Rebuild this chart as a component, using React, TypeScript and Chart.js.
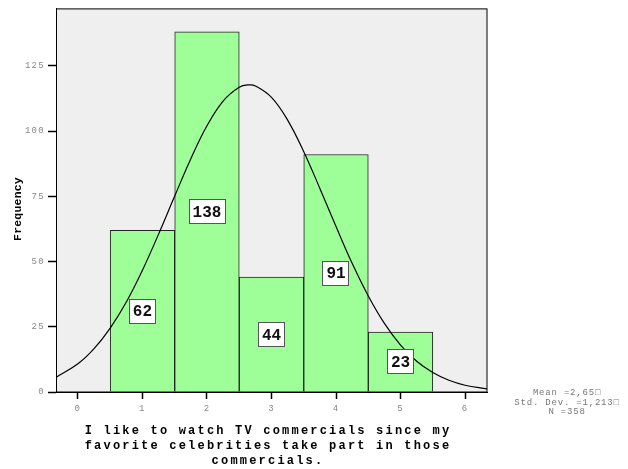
import React, { useEffect, useRef } from "react";
import { Chart, registerables } from "chart.js";

Chart.register(...registerables);

// Histogram data
const categories = [1, 2, 3, 4, 5];
const frequencies = [62, 138, 44, 91, 23];

// Normal curve points
const curveX = [-0.34, 0, 0.25, 0.5, 0.75, 1, 1.25, 1.5, 1.75, 2, 2.25, 2.5, 2.65, 2.75, 3, 3.25, 3.5, 3.75, 4, 4.25, 4.5, 4.75, 5, 5.25, 5.5, 5.75, 6, 6.34];
const curveY = [5.6, 10.8, 16.6, 24.5, 34.5, 46.7, 60.5, 75.1, 89.4, 102.0, 111.5, 116.8, 117.7, 117.3, 112.9, 104.2, 92.1, 78.0, 63.4, 49.3, 36.8, 26.3, 18.0, 11.8, 7.5, 4.5, 2.6, 1.2];

const yTitle = "Frequency";
const xTitleLines = [
  "I like to watch TV commercials since my",
  "favorite celebrities take part in those",
  "commercials.",
];
const statsLines = ["Mean =2,65\u25A1", "Std. Dev. =1,213\u25A1", "N =358"];

const MONO = "'Liberation Mono', 'Courier New', monospace";

const decorPlugin = {
  id: "decor",
  beforeDraw(chart: any) {
    const { ctx, chartArea } = chart;
    ctx.save();
    ctx.fillStyle = "#efefef";
    ctx.fillRect(chartArea.left, chartArea.top, chartArea.right - chartArea.left, chartArea.bottom - chartArea.top);
    ctx.restore();
    (ctx as any).letterSpacing = "1.3px";
  },
  afterDatasetsDraw(chart: any) {
    const { ctx } = chart;
    const xs = chart.scales.x;
    const ys = chart.scales.y;
    ctx.save();
    (ctx as any).letterSpacing = "0px";
    ctx.font = `bold 16px ${MONO}`;
    ctx.textAlign = "center";
    ctx.textBaseline = "middle";
    categories.forEach((c, i) => {
      const label = String(frequencies[i]);
      const cx = xs.getPixelForValue(c);
      const cy = ys.getPixelForValue(frequencies[i] / 2);
      const w = ctx.measureText(label).width + 8;
      const h = 25;
      ctx.fillStyle = "#ffffff";
      ctx.fillRect(Math.round(cx - w / 2), Math.round(cy - h / 2), Math.round(w), h);
      ctx.strokeStyle = "#555";
      ctx.lineWidth = 1;
      ctx.strokeRect(Math.round(cx - w / 2) + 0.5, Math.round(cy - h / 2) + 0.5, Math.round(w) - 1, h - 1);
      ctx.fillStyle = "#111";
      ctx.fillText(label, cx, cy + 1);
    });
    ctx.restore();
  },
  afterDraw(chart: any) {
    const { ctx, chartArea } = chart;
    ctx.save();
    (ctx as any).letterSpacing = "0px";
    ctx.strokeStyle = "#000";
    ctx.lineWidth = 1;
    ctx.strokeRect(chartArea.left + 0.5, chartArea.top + 0.5, chartArea.right - chartArea.left - 0.5, chartArea.bottom - chartArea.top - 0.5);

    // Y title
    ctx.save();
    ctx.translate(21, 209);
    ctx.rotate(-Math.PI / 2);
    (ctx as any).letterSpacing = "0.2px";
    ctx.font = `bold 11.5px ${MONO}`;
    ctx.fillStyle = "#000";
    ctx.textAlign = "center";
    ctx.textBaseline = "alphabetic";
    ctx.fillText(yTitle, 0, 0);
    ctx.restore();

    // X title
    (ctx as any).letterSpacing = "2.2px";
    ctx.font = `bold 12px ${MONO}`;
    ctx.fillStyle = "#000";
    ctx.textAlign = "center";
    ctx.textBaseline = "alphabetic";
    const bases = [434, 449, 463.5];
    xTitleLines.forEach((t, i) => ctx.fillText(t, 268, bases[i]));

    // Stats
    (ctx as any).letterSpacing = "0.8px";
    ctx.font = `9px ${MONO}`;
    ctx.fillStyle = "#777";
    ctx.textBaseline = "middle";
    const sy = [393, 403, 412];
    statsLines.forEach((t, i) => ctx.fillText(t, 567, sy[i]));
    ctx.restore();
  },
};

export default function App() {
  const ref = useRef<HTMLCanvasElement>(null);
  useEffect(() => {
    const canvas = ref.current;
    if (!canvas) return;
    const chart = new Chart(canvas, {
      type: "bar",
      data: {
        datasets: [
          {
            type: "line",
            data: curveX.map((x, i) => ({ x, y: curveY[i] })),
            borderColor: "#000",
            borderWidth: 1.2,
            pointRadius: 0,
            tension: 0.4,
            fill: false,
            order: 0,
          } as any,
          {
            type: "bar",
            data: categories.map((c, i) => ({ x: c, y: frequencies[i] })),
            backgroundColor: "#9eff99",
            borderColor: "#222",
            borderWidth: 1,
            barPercentage: 1,
            categoryPercentage: 1,
            order: 1,
          } as any,
        ],
      },
      options: {
        responsive: false,
        animation: false,
        devicePixelRatio: 1,
        layout: { padding: { left: 0, top: 5, right: 141, bottom: 0 } },
        plugins: { legend: { display: false }, tooltip: { enabled: false } },
        scales: {
          x: {
            type: "linear",
            min: -0.34,
            max: 6.34,
            offset: false,
            afterFit(s: any) {
              s.height = 77;
            },
            ticks: {
              stepSize: 1,
              includeBounds: false,
              padding: 4,
              color: "#888",
              font: { family: MONO, size: 9 },
              maxRotation: 0,
              autoSkip: false,
            },
            grid: { offset: false, drawOnChartArea: false, drawTicks: true, tickLength: 7, color: "#000", tickWidth: 1.5 },
            border: { display: true, color: "#000", width: 1 },
          },
          y: {
            type: "linear",
            min: 0,
            max: 147,
            afterFit(s: any) {
              s.width = 56;
            },
            ticks: {
              stepSize: 25,
              includeBounds: false,
              padding: 3,
              color: "#888",
              font: { family: MONO, size: 9 },
            },
            grid: { drawOnChartArea: false, drawTicks: true, tickLength: 8, color: "#000", tickWidth: 1.5 },
            border: { display: true, color: "#000", width: 1 },
          },
        },
      } as any,
      plugins: [decorPlugin],
    });
    return () => chart.destroy();
  }, []);
  return (
    <div style={{ position: "absolute", left: 0, top: 0, width: 628, height: 469 }}>
      <canvas ref={ref} width={628} height={469} style={{ display: "block" }} />
    </div>
  );
}
